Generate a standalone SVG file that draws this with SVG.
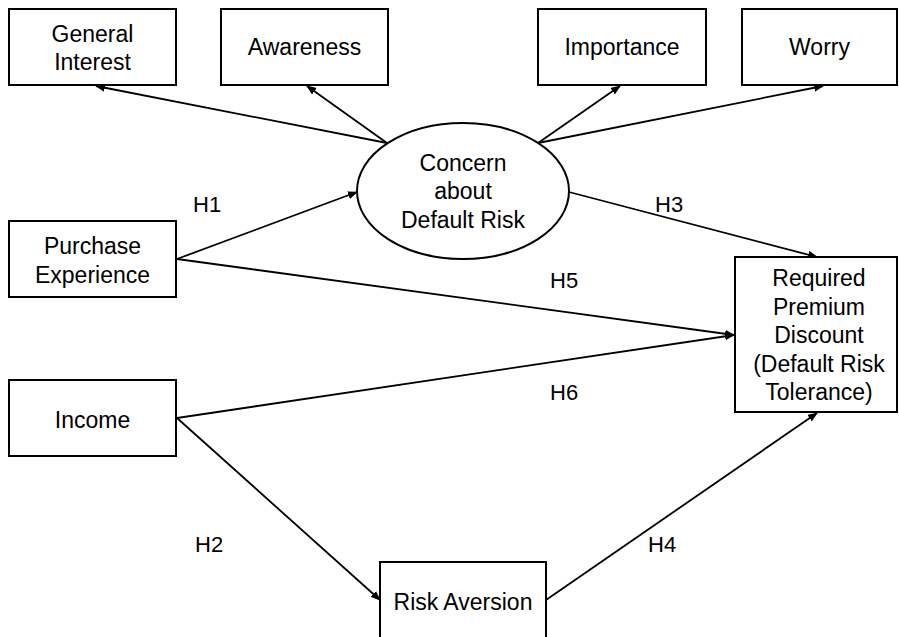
<svg xmlns="http://www.w3.org/2000/svg" width="899" height="637" viewBox="0 0 899 637">
<style>
.box{fill:#fff;stroke:#000;stroke-width:2}
.t{font-family:"Liberation Sans",Arial,sans-serif;font-size:23px;fill:#000;text-anchor:middle}
.h{font-family:"Liberation Sans",Arial,sans-serif;font-size:22px;fill:#000}
.c{stroke:#000;stroke-width:1.8;fill:none;marker-end:url(#ah)}
</style>
<defs>
<marker id="ah" markerUnits="userSpaceOnUse" markerWidth="10" markerHeight="8" refX="9" refY="4" orient="auto">
<path d="M0,0 L10,4 L0,8 Z" fill="#000"/>
</marker>
</defs>
<rect width="899" height="637" fill="#fff"/>
<g id="connectors">
<line class="c" x1="387" y1="143" x2="96" y2="86"/>
<line class="c" x1="387" y1="143" x2="307" y2="86"/>
<line class="c" x1="538" y1="143" x2="620" y2="86"/>
<line class="c" x1="538" y1="143" x2="823" y2="86"/>
<line class="c" x1="177" y1="259" x2="357" y2="192"/>
<line class="c" x1="569" y1="192" x2="817" y2="257"/>
<line class="c" x1="177" y1="259" x2="734" y2="335"/>
<line class="c" x1="177" y1="418" x2="734" y2="335"/>
<line class="c" x1="177" y1="418" x2="380" y2="600"/>
<line class="c" x1="546" y1="600" x2="817" y2="413"/>
</g>
<g id="general-interest">
<rect class="box" x="9" y="9" width="167" height="76"/>
<text class="t" x="92.5" y="42">General</text>
<text class="t" x="92.5" y="70">Interest</text>
</g>
<g id="awareness">
<rect class="box" x="221" y="9" width="167" height="76"/>
<text class="t" x="304.5" y="55">Awareness</text>
</g>
<g id="importance">
<rect class="box" x="538" y="9" width="168" height="76"/>
<text class="t" x="622" y="55">Importance</text>
</g>
<g id="worry">
<rect class="box" x="742" y="9" width="155" height="76"/>
<text class="t" x="819.5" y="55">Worry</text>
</g>
<g id="concern">
<ellipse class="box" cx="463" cy="191" rx="106" ry="68"/>
<text class="t" x="463" y="171">Concern</text>
<text class="t" x="463" y="199">about</text>
<text class="t" x="463" y="228">Default Risk</text>
</g>
<g id="purchase-experience">
<rect class="box" x="9" y="221" width="167" height="76"/>
<text class="t" x="92.5" y="254">Purchase</text>
<text class="t" x="92.5" y="283">Experience</text>
</g>
<g id="income">
<rect class="box" x="9" y="380" width="167" height="76"/>
<text class="t" x="92.5" y="428">Income</text>
</g>
<g id="required-premium-discount">
<rect class="box" x="735" y="257" width="162" height="155"/>
<text class="t" x="819" y="286">Required</text>
<text class="t" x="819" y="315">Premium</text>
<text class="t" x="819" y="343">Discount</text>
<text class="t" x="819" y="372">(Default Risk</text>
<text class="t" x="819" y="400">Tolerance)</text>
</g>
<g id="risk-aversion">
<rect class="box" x="380" y="562" width="166" height="90"/>
<text class="t" x="463" y="610">Risk Aversion</text>
</g>
<g id="labels">
<text class="h" x="193" y="212">H1</text>
<text class="h" x="655" y="212">H3</text>
<text class="h" x="550" y="288">H5</text>
<text class="h" x="550" y="400">H6</text>
<text class="h" x="195" y="552">H2</text>
<text class="h" x="648" y="552">H4</text>
</g>
</svg>
